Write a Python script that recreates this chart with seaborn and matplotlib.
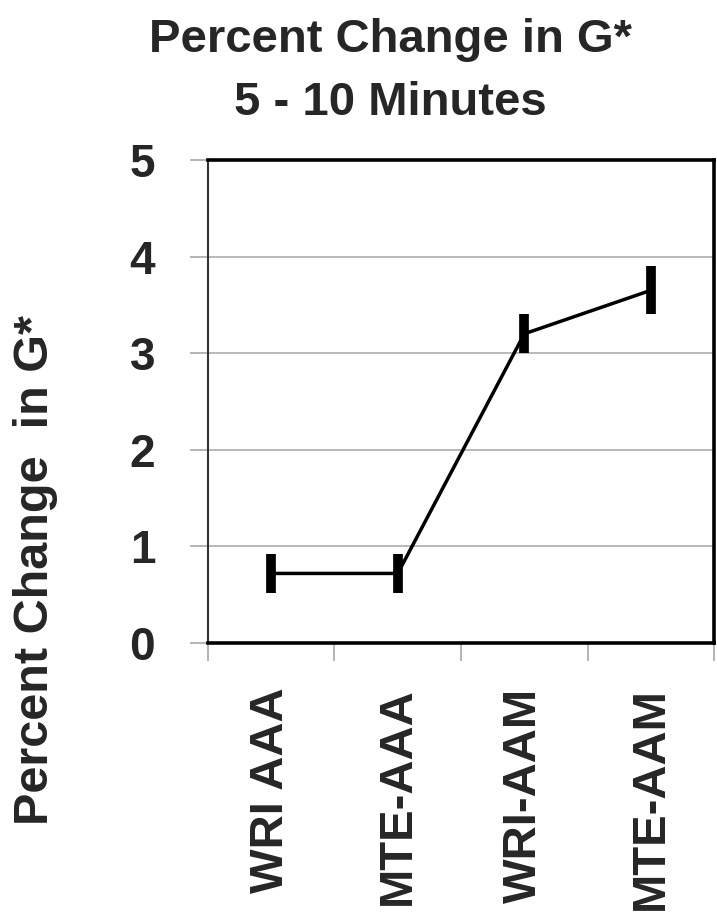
import numpy as np
import pandas as pd
import seaborn as sns
import matplotlib.pyplot as plt
from matplotlib.ticker import FixedLocator

categories = ["WRI AAA", "MTE-AAA", "WRI-AAM", "MTE-AAM"]
pct_change = [0.72, 0.72, 3.2, 3.65]
err = [0.2, 0.2, 0.2, 0.25]
y_ticks = [0, 1, 2, 3, 4, 5]

df = pd.DataFrame({"group": categories, "change": pct_change, "err": err})

sns.set_style("white")
plt.rcParams["font.family"] = ["Liberation Sans", "DejaVu Sans"]
plt.rcParams["font.weight"] = "bold"

fig = plt.figure(figsize=(7.17, 9.22), dpi=100)
ax = fig.add_axes([0.290, 0.3026, 0.706, 0.524])

# line through the group means
sns.lineplot(data=df, x="group", y="change", color="black", lw=2.5, sort=False, ax=ax, zorder=3)
# thick error bars, no caps
ax.errorbar(df["group"], df["change"], yerr=df["err"], fmt="none",
            ecolor="black", elinewidth=7, capsize=0, zorder=4)

ax.set_xlim(-0.5, len(categories) - 0.5)
ax.set_ylim(0, 5)
ax.set_yticks(y_ticks)
ax.yaxis.grid(True, color="#a6a6a6", lw=1.1)
ax.set_axisbelow(True)

ax.set_xlabel("")
ax.set_ylabel("")
ax.set_xticks(range(len(categories)))
ax.set_xticklabels(categories, rotation=90, fontsize=34, fontweight="bold", va="top", ha="center")
ax.tick_params(axis="x", which="major", length=0, pad=32)
ax.xaxis.set_minor_locator(FixedLocator(np.arange(-0.5, len(categories), 1.0)))
ax.tick_params(axis="x", which="minor", bottom=True, length=13, width=1.1, color="#a0a0a0", direction="out")

ax.tick_params(axis="y", left=True, length=13, width=1.1, color="#a0a0a0", direction="out",
               labelsize=33, pad=25)
for lab in ax.get_yticklabels():
    lab.set_fontweight("bold")

for side in ["top", "right", "bottom"]:
    ax.spines[side].set_color("black")
    ax.spines[side].set_linewidth(2.6)
ax.spines["left"].set_color("#333333")
ax.spines["left"].set_linewidth(1.5)

fig.text(0.544, 0.957, "Percent Change in G*", ha="center", va="center", fontsize=34, fontweight="bold")
fig.text(0.544, 0.888, "5 - 10 Minutes", ha="center", va="center", fontsize=34, fontweight="bold")
fig.text(0.050, 0.382, "Percent Change  in G*", rotation=90, ha="center", va="center",
         fontsize=35, fontweight="bold")

fig.savefig("out.png", dpi=100)
